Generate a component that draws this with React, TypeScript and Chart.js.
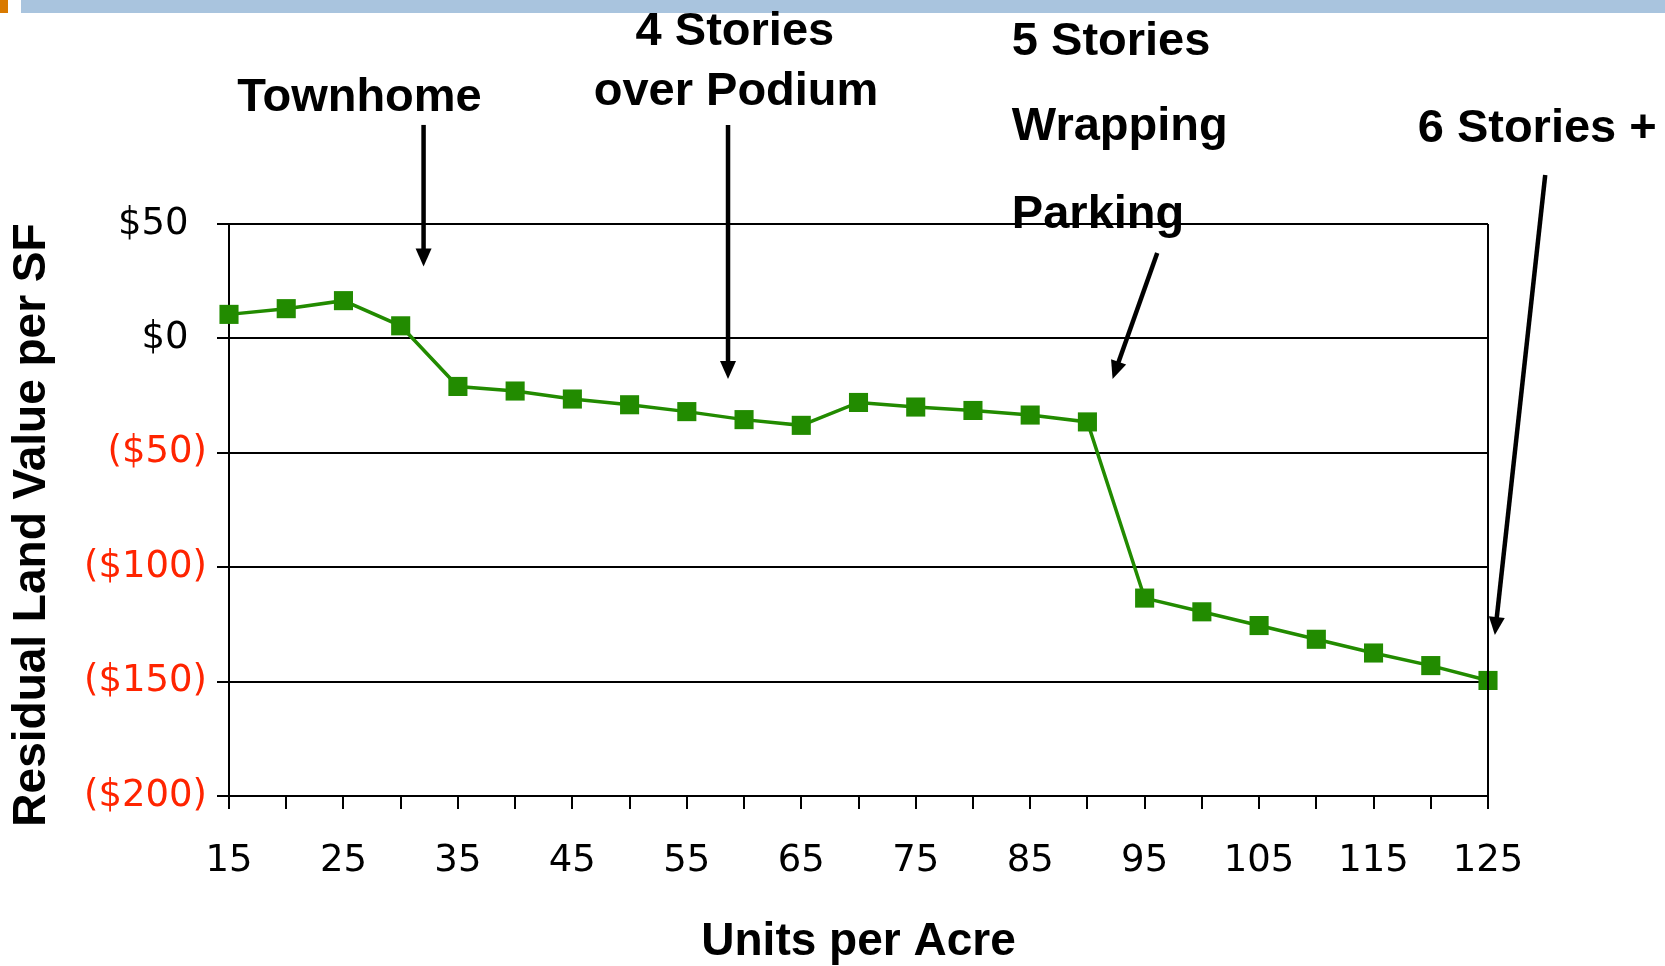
import React, { useEffect, useRef } from "react";
import { Chart, registerables } from "chart.js";

Chart.register(...registerables);

// ---- data ----
const unitsPerAcre = [15, 20, 25, 30, 35, 40, 45, 50, 55, 60, 65, 70, 75, 80, 85, 90, 95, 100, 105, 110, 115, 120, 125];
const residualValuePerSF = [10.5, 13, 16.5, 5.5, -21, -23, -26.5, -29, -32, -35.5, -38, -28, -30, -31.5, -33.5, -36.5, -113.5, -119.5, -125.5, -131.5, -137.5, -143, -149.5];
const yTickValues = [50, 0, -50, -100, -150, -200];
const xLabelValues = [15, 25, 35, 45, 55, 65, 75, 85, 95, 105, 115, 125];

const yAxisTitle = "Residual Land Value per SF";
const xAxisTitle = "Units per Acre";

// annotation texts, anchored in data units
const annotationTexts = [
  { text: "Townhome", x: 26.4, y: 105.2, align: "center" },
  { text: "4 Stories", x: 59.2, y: 134.0, align: "center" },
  { text: "over Podium", x: 59.3, y: 107.6, align: "center" },
  { text: "5 Stories", x: 83.4, y: 129.6, align: "left" },
  { text: "Wrapping", x: 83.4, y: 92.2, align: "left" },
  { text: "Parking", x: 83.4, y: 53.9, align: "left" },
  { text: "6 Stories +", x: 129.3, y: 91.6, align: "center" },
];
const annotationArrows = [
  { x1: 32, y1: 93.3, x2: 32, y2: 31.4 },
  { x1: 58.6, y1: 93.3, x2: 58.6, y2: -17.7 },
  { x1: 96.1, y1: 37.3, x2: 92.2, y2: -17.7 },
  { x1: 130, y1: 71.4, x2: 125.6, y2: -129.6 },
];

const GREEN = "#228B00";
const RED = "#FF2400";
const BOLD_FONT = "bold 47px 'Liberation Sans', Arial, sans-serif";

function fmtMoney(v: number): string {
  if (v < 0) return "($" + Math.abs(v) + ")";
  return "$" + v + "\u2002";
}

const decorPlugin = {
  id: "decor",
  beforeDraw(chart: any) {
    const ctx = chart.ctx;
    ctx.save();
    ctx.fillStyle = "#ffffff";
    ctx.fillRect(0, 0, chart.width, chart.height);
    ctx.fillStyle = "#D97A00";
    ctx.fillRect(0, 0, 8, 13);
    ctx.fillStyle = "#A9C4DE";
    ctx.fillRect(21, 0, chart.width - 21, 13);
    ctx.restore();
  },
  afterDraw(chart: any) {
    const ctx = chart.ctx;
    const xs = chart.scales.x;
    const ys = chart.scales.y;
    const area = chart.chartArea;
    ctx.save();
    // right border of plot box
    ctx.strokeStyle = "#000";
    ctx.lineWidth = 2;
    ctx.beginPath();
    ctx.moveTo(area.right, area.top);
    ctx.lineTo(area.right, area.bottom);
    ctx.stroke();

    // axis titles
    ctx.fillStyle = "#000";
    ctx.font = "bold 46px 'Liberation Sans', Arial, sans-serif";
    ctx.textAlign = "center";
    ctx.textBaseline = "middle";
    ctx.fillText(xAxisTitle, (area.left + area.right) / 2, 942);
    ctx.save();
    ctx.translate(32, 525);
    ctx.rotate(-Math.PI / 2);
    ctx.fillText(yAxisTitle, 0, 0);
    ctx.restore();

    // annotation texts
    ctx.font = BOLD_FONT;
    for (const t of annotationTexts) {
      ctx.textAlign = t.align as CanvasTextAlign;
      ctx.fillText(t.text, xs.getPixelForValue(t.x), ys.getPixelForValue(t.y));
    }

    // arrows
    for (const a of annotationArrows) {
      const px1 = xs.getPixelForValue(a.x1);
      const py1 = ys.getPixelForValue(a.y1);
      const px2 = xs.getPixelForValue(a.x2);
      const py2 = ys.getPixelForValue(a.y2);
      const dx = px2 - px1;
      const dy = py2 - py1;
      const len = Math.sqrt(dx * dx + dy * dy);
      const ux = dx / len;
      const uy = dy / len;
      const headLen = 18;
      const headHalf = 8;
      const bx = px2 - ux * headLen;
      const by = py2 - uy * headLen;
      ctx.strokeStyle = "#000";
      ctx.lineWidth = 4.5;
      ctx.lineCap = "butt";
      ctx.beginPath();
      ctx.moveTo(px1, py1);
      ctx.lineTo(bx + ux * 2, by + uy * 2);
      ctx.stroke();
      ctx.fillStyle = "#000";
      ctx.beginPath();
      ctx.moveTo(px2, py2);
      ctx.lineTo(bx - uy * headHalf, by + ux * headHalf);
      ctx.lineTo(bx + uy * headHalf, by - ux * headHalf);
      ctx.closePath();
      ctx.fill();
    }
    ctx.restore();
  },
};

export default function App() {
  const canvasRef = useRef<HTMLCanvasElement | null>(null);

  useEffect(() => {
    const canvas = canvasRef.current;
    if (!canvas) return;
    const points = unitsPerAcre.map((u, i) => ({ x: u, y: residualValuePerSF[i] }));
    const chart = new Chart(canvas, {
      type: "line",
      data: {
        datasets: [
          {
            data: points,
            borderColor: GREEN,
            backgroundColor: GREEN,
            borderWidth: 3.5,
            pointStyle: "rect",
            pointRadius: 13.5,
            pointBorderWidth: 0,
            pointBackgroundColor: GREEN,
            tension: 0,
            clip: false,
          },
        ],
      },
      options: {
        responsive: false,
        animation: false,
        devicePixelRatio: 1,
        events: [],
        layout: { padding: { top: 224, right: 177, left: 0, bottom: 0 } },
        plugins: {
          legend: { display: false },
          tooltip: { enabled: false },
          title: { display: false },
        },
        scales: {
          x: {
            type: "linear",
            min: 15,
            max: 125,
            afterFit: (scale: any) => {
              scale.height = 170;
            },
            afterBuildTicks: (scale: any) => {
              scale.ticks = unitsPerAcre.map((v) => ({ value: v }));
            },
            ticks: {
              autoSkip: false,
              maxRotation: 0,
              minRotation: 0,
              padding: 30,
              color: "#000",
              font: { family: "'DejaVu Sans', sans-serif", size: 37 },
              callback: (v: any) => (xLabelValues.includes(Number(v)) ? String(v) : ""),
            },
            grid: {
              drawOnChartArea: false,
              drawTicks: true,
              tickLength: 13,
              color: "#000",
              lineWidth: 2,
            },
            border: { display: true, color: "#000", width: 2 },
          },
          y: {
            min: -200,
            max: 50,
            afterFit: (scale: any) => {
              scale.width = 229;
            },
            afterBuildTicks: (scale: any) => {
              scale.ticks = yTickValues.map((v) => ({ value: v }));
            },
            ticks: {
              padding: 10,
              color: (c: any) => (c.tick && c.tick.value < 0 ? RED : "#000"),
              font: { family: "'DejaVu Sans', sans-serif", size: 37 },
              callback: (v: any) => fmtMoney(Number(v)),
            },
            grid: {
              drawOnChartArea: true,
              drawTicks: true,
              tickLength: 12,
              color: "#000",
              lineWidth: 2,
            },
            border: { display: true, color: "#000", width: 2 },
          },
        },
      },
      plugins: [decorPlugin],
    });
    return () => {
      chart.destroy();
    };
  }, []);

  return (
    <div style={{ position: "fixed", left: 0, top: 0, width: 1665, height: 966, background: "#fff" }}>
      <canvas ref={canvasRef} width={1665} height={966} style={{ display: "block" }} />
    </div>
  );
}
